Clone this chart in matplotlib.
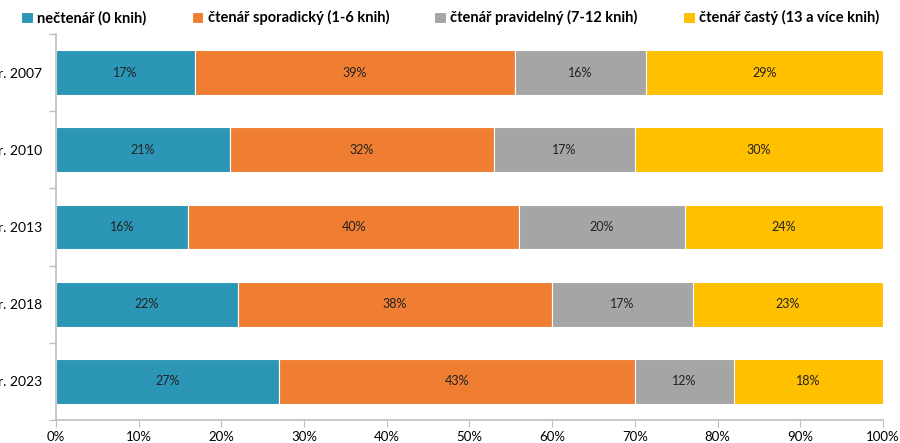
import numpy as np
import matplotlib
matplotlib.use('Agg')
import matplotlib.pyplot as plt
from matplotlib.ticker import FixedLocator, PercentFormatter

plt.rcParams['font.family'] = ['Lato', 'DejaVu Sans']

years = ['r. 2007', 'r. 2010', 'r. 2013', 'r. 2018', 'r. 2023']
series = ['nečtenář (0 knih)', 'čtenář sporadický (1-6 knih)',
          'čtenář pravidelný (7-12 knih)', 'čtenář častý (13 a více knih)']
necten = [16.8, 21.0, 16.0, 22.0, 27.0]
sporad = [38.7, 32.0, 40.0, 38.0, 43.0]
pravid = [15.8, 17.0, 20.0, 17.0, 12.0]
casty = [28.7, 30.0, 24.0, 23.0, 18.0]
colors = ['#2B96B5', '#F07E32', '#A5A5A5', '#FFC000']

fig = plt.figure(figsize=(9, 4.43), dpi=100)
ax = fig.add_axes([0.0622, 0.0519, 0.9189, 0.8713])

y = np.arange(len(years))
left = np.zeros(len(years))
for name, vals, col in zip(series, [necten, sporad, pravid, casty], colors):
    vals = np.array(vals)
    ax.barh(y, vals, left=left, height=0.58, color=col, edgecolor='white',
            linewidth=0.8, label=name)
    for yi, l, v in zip(y, left, vals):
        ax.text(l + v / 2, yi, '%d%%' % round(v), ha='center', va='center',
                fontsize=9, color='#222222')
    left += vals

ax.set_xlim(0, 100)
ax.set_ylim(len(years) - 0.5, -0.5)
ax.set_yticks(y)
ax.set_yticklabels(years, fontsize=10)
ax.yaxis.set_minor_locator(FixedLocator(np.arange(-0.5, len(years), 1.0)))
ax.tick_params(axis='y', which='major', length=0, pad=10)
ax.tick_params(axis='y', which='minor', length=5, color='#BFBFBF', width=1)
ax.set_xticks(np.arange(0, 101, 10))
ax.xaxis.set_major_formatter(PercentFormatter(decimals=0))
ax.tick_params(axis='x', length=5, color='#BFBFBF', labelsize=9.5, pad=3)

for s in ['top', 'right']:
    ax.spines[s].set_visible(False)
for s in ['left', 'bottom']:
    ax.spines[s].set_color('#BFBFBF')
    ax.spines[s].set_linewidth(1.2)

fig.legend(loc='upper left', bbox_to_anchor=(0.012, 1.0), ncol=4, frameon=False,
           prop={'weight': 'bold', 'size': 10.5}, handlelength=0.8, handleheight=0.8,
           handletextpad=0.3, columnspacing=3.1, borderaxespad=0.3)

fig.savefig('out.png', dpi=100)
